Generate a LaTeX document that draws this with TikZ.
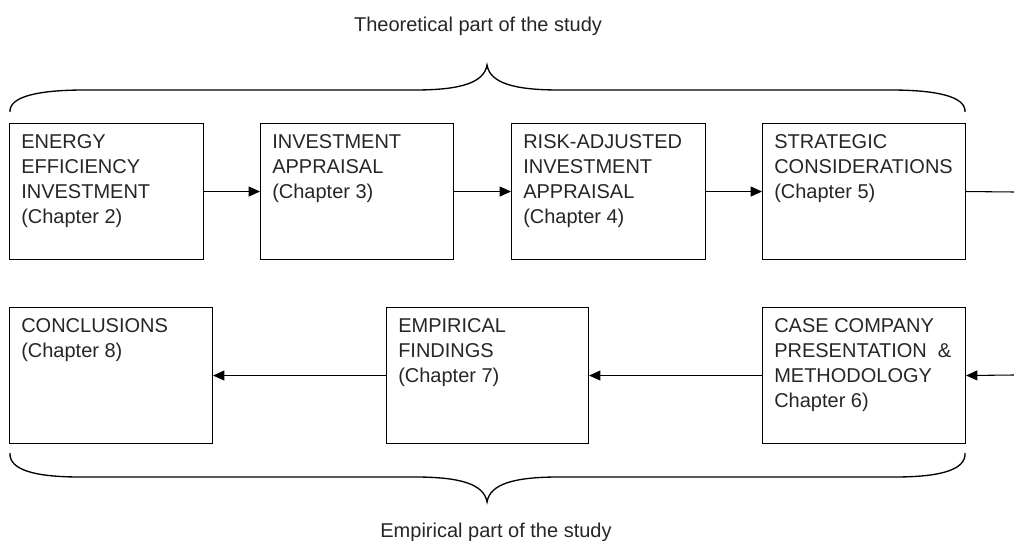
\documentclass[tikz,border=0pt]{standalone}
\usepackage{fontspec}
\setmainfont{Liberation Sans}
\usetikzlibrary{arrows.meta}
\begin{document}
\begin{tikzpicture}[x=0.75pt,y=-0.75pt,
  box/.style={draw, line width=0.8pt, rectangle, anchor=north west, inner sep=0pt,
              minimum height=136*0.75pt},
  boxtext/.style={anchor=north west, inner sep=0pt, align=left, text=black!85,
                  font=\fontsize{15}{18.75}\selectfont,
                  xshift=12*0.75pt, yshift=-10*0.75pt},
  flow/.style={line width=0.8pt, -{Triangle[length=8.5pt,width=7.5pt]}},
  plain/.style={line width=0.8pt},
  brace/.style={line width=1pt},
  caption/.style={anchor=base, inner sep=0pt, text=black!85,
                  font=\fontsize{15}{18}\selectfont}]

\useasboundingbox (0,0) rectangle (1014,541);

% theoretical chapters (top row)
\node[box, minimum width=194*0.75pt] (b1) at (9,123) {};
\node[box, minimum width=193*0.75pt] (b2) at (260,123) {};
\node[box, minimum width=194*0.75pt] (b3) at (511,123) {};
\node[box, minimum width=203*0.75pt] (b4) at (762,123) {};

\node[boxtext] (t1) at (b1.north west) {\rule{0pt}{11.25pt}ENERGY\\EFFICIENCY\\INVESTMENT\\(Chapter 2)};
\node[boxtext] (t2) at (b2.north west) {\rule{0pt}{11.25pt}INVESTMENT\\APPRAISAL\\(Chapter 3)};
\node[boxtext] (t3) at (b3.north west) {\rule{0pt}{11.25pt}RISK-ADJUSTED\\INVESTMENT\\APPRAISAL\\(Chapter 4)};
\node[boxtext] (t4) at (b4.north west) {\rule{0pt}{11.25pt}STRATEGIC\\CONSIDERATIONS\\(Chapter 5)};

% empirical chapters (bottom row)
\node[box, minimum width=203*0.75pt] (b8) at (9,307) {};
\node[box, minimum width=202*0.75pt] (b7) at (386,307) {};
\node[box, minimum width=203*0.75pt] (b6) at (762,307) {};

\node[boxtext] (t8) at (b8.north west) {\rule{0pt}{11.25pt}CONCLUSIONS\\(Chapter 8)};
\node[boxtext] (t7) at (b7.north west) {\rule{0pt}{11.25pt}EMPIRICAL\\FINDINGS\\(Chapter 7)};
\node[boxtext] (t6) at (b6.north west) {\rule{0pt}{11.25pt}CASE COMPANY\\PRESENTATION\ \ \&\\METHODOLOGY\\Chapter 6)};

% reading order
\coordinate (outR) at (1014,192);
\coordinate (inR) at (1014,375);
\draw[flow] (b1.east) -- (b2.west);
\draw[flow] (b2.east) -- (b3.west);
\draw[flow] (b3.east) -- (b4.west);
\draw[plain] (b4.east) -- (outR);
\draw[flow] (inR) -- (b6.east);
\draw[flow] (b6.west) -- (b7.east);
\draw[flow] (b7.west) -- (b8.east);

% braces grouping the two parts
\draw[brace] (10,112) .. controls (9,96) and (40,90) .. (85,90) -- (415,90)
  .. controls (460,90) and (484,83) .. (487,65)
  .. controls (490,83) and (514,90) .. (559,90) -- (890,90)
  .. controls (935,90) and (966,96) .. (965,112);
\draw[brace] (10,453) .. controls (9,470) and (35,477) .. (80,477) -- (415,477)
  .. controls (460,477) and (484,484) .. (487,502)
  .. controls (490,484) and (514,477) .. (559,477) -- (895,477)
  .. controls (940,477) and (966,470) .. (965,453);

\node[caption] (theo) at (478,32) {Theoretical part of the study};
\node[caption] (emp) at (496,537) {Empirical part of the study};
\end{tikzpicture}
\end{document}
